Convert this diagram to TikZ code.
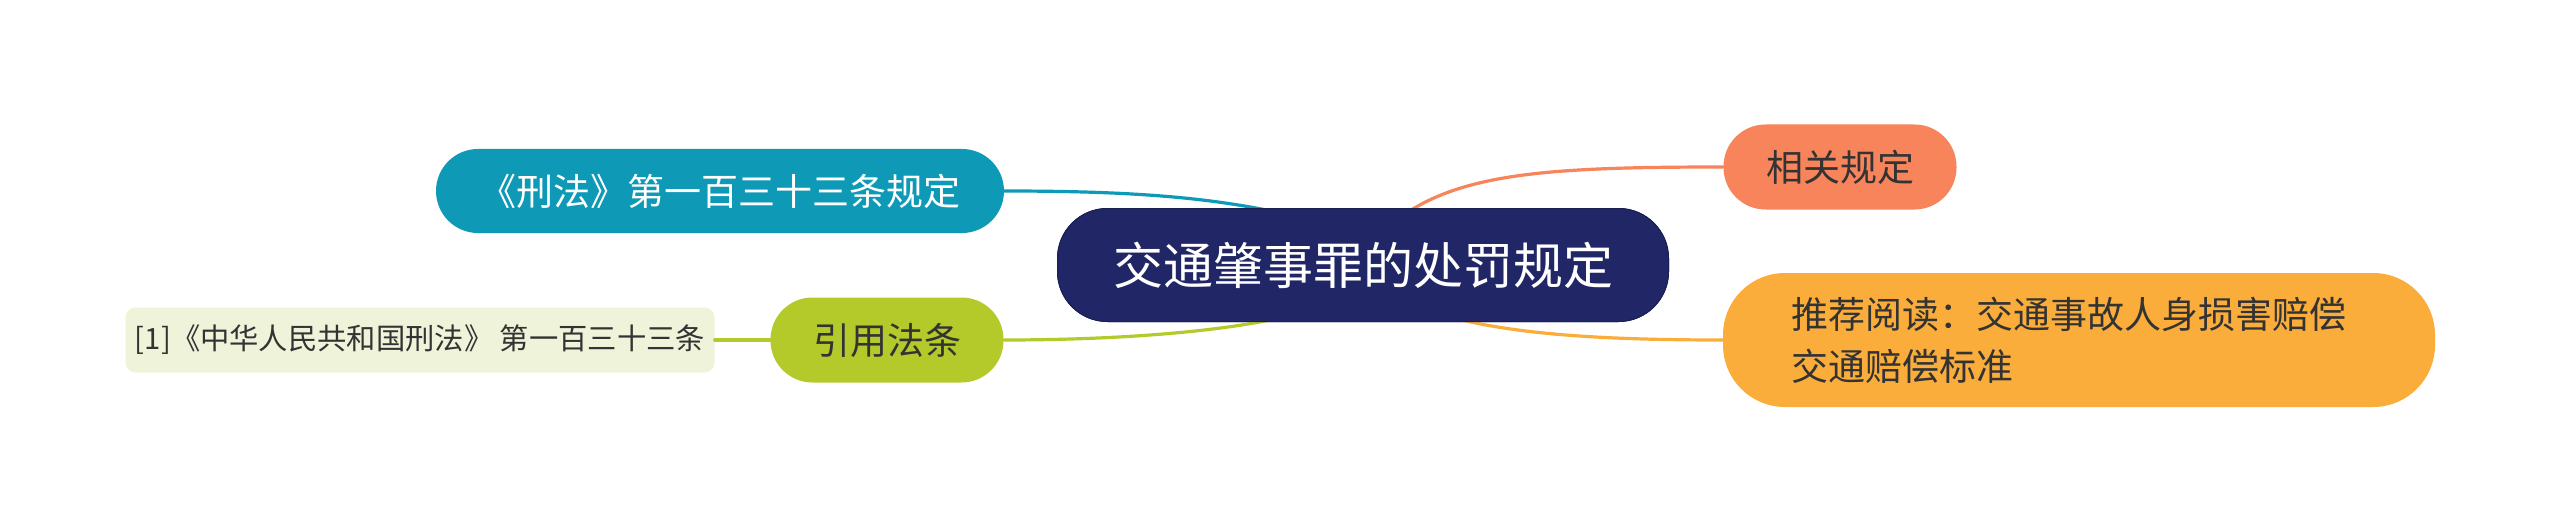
\documentclass[tikz,border=0pt]{standalone}
\usepackage{fontspec}
\setmainfont{Noto Sans CJK SC}
\definecolor{navy}{HTML}{212766}
\definecolor{teal}{HTML}{0E9AB7}
\definecolor{lime}{HTML}{B4CA2B}
\definecolor{coral}{HTML}{F7845A}
\definecolor{amber}{HTML}{FBAD3B}
\definecolor{leafbg}{HTML}{EFF3D9}
\definecolor{txt}{HTML}{333333}
\tikzset{
  pill/.style={inner sep=0pt, align=center, font=\fontsize{37}{52}\selectfont},
  centrebox/.style={pill, draw=navy!80!black, line width=1pt, fill=navy, rounded corners=50pt, minimum width=611pt, minimum height=113pt, text=white, font=\fontsize{50}{60}\selectfont},
  conn/.style={line width=3.2pt, line cap=round},
}
\begin{document}
\begin{tikzpicture}[x=1pt,y=-1pt]
\useasboundingbox (0,0) rectangle (2560,532);
\fill[white] (0,0) rectangle (2560,532);
\coordinate (ct1) at (1276,212);
\coordinate (ct2) at (1408,212);
\coordinate (cb1) at (1270,320);
\coordinate (cb2) at (1462,320);
% nodes
\node[centrebox] (c) at (1363,265) {交通肇事罪的处罚规定};
\node[pill, fill=teal, rounded corners=42pt, minimum width=568pt, minimum height=84pt, text=white] (k1) at (720,191) {《刑法》第一百三十三条规定};
\node[pill, fill=lime, rounded corners=42pt, minimum width=233pt, minimum height=85pt, text=txt] (k2) at (887,340) {引用法条};
\node[pill, fill=leafbg, rounded corners=10pt, minimum width=589pt, minimum height=65pt, text=txt, font=\fontsize{29.3}{36}\selectfont] (k3) at (420,340) {[1]《中华人民共和国刑法》 第一百三十三条};
\node[pill, fill=coral, rounded corners=42pt, minimum width=233pt, minimum height=85pt, text=txt] (k4) at (1840,167) {相关规定};
\node[pill, fill=amber, rounded corners=62pt, minimum width=712pt, minimum height=134pt, text=txt, align=left, text width=576pt] (k5) at (2079,340) {推荐阅读：交通事故人身损害赔偿\\交通赔偿标准};
% connectors
\draw[conn, teal] (k1.east) .. controls (1120,191) and (1200,196) .. (ct1);
\draw[conn, coral] (ct2) .. controls (1470,172) and (1560,167) .. (k4.west);
\draw[conn, lime] (cb1) .. controls (1200,334) and (1100,340) .. (k2.east);
\draw[conn, amber] (cb2) .. controls (1530,336) and (1620,340) .. (k5.west);
\draw[conn, lime] (k2.west) -- (k3.east);
% centre drawn again over the connector ends
\node[centrebox] at (c) {交通肇事罪的处罚规定};
\end{tikzpicture}
\end{document}
